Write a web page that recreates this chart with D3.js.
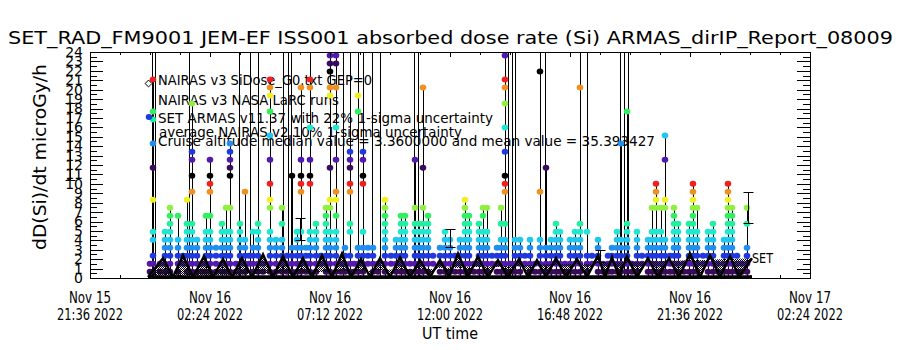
<!DOCTYPE html>
<html>
<head>
<meta charset="utf-8">
<script src="https://cdn.jsdelivr.net/npm/d3@7"></script>
<style>
  body { margin: 0; background: #fff; }
  svg { display: block; }
  text { font-family: "DejaVu Sans", sans-serif; font-weight: 400; fill: #000; }
</style>
</head>
<body>
<svg id="chart" width="900" height="350"></svg>
<script>
// times are hours after 2022-11-16 00:00 UT
var xTickHours = [-2.4, 2.4, 7.2, 12, 16.8, 21.6, 26.4],
    xTickDay = ["Nov 15", "Nov 16", "Nov 16", "Nov 16", "Nov 16", "Nov 16", "Nov 17"],
    xTickClock = ["21:36 2022", "02:24 2022", "07:12 2022", "12:00 2022", "16:48 2022", "21:36 2022", "02:24 2022"];

// quantized dose levels of the ARMAS read-out (microGy/h)
var doseLevels = [0.67, 1.52, 2.37, 3.22, 4.07, 4.92, 5.77, 6.62, 7.47, 8.32, 9.17, 10.02, 10.87, 11.72,
                  12.57, 13.42, 14.27, 15.12, 15.97, 16.82, 17.67, 18.52, 19.37, 20.22, 21.07, 21.92, 22.77, 23.62];
var levelColors = ["#3a0a5c", "#5218b0", "#2038e0", "#2090f0", "#20c8f0", "#20e8d0", "#20f0a0",
                   "#30f060", "#90f040", "#f0f020", "#f09020", "#f02020", "#000000"];

// SET ARMAS samples: [time, level indices reached]
var armasColumns = [
  [0.00, [0,1]], [0.12, [0,1,2,4,5,9,13,16,19,20,24]], [0.40, [0,1]], [0.60, [0,1,2,3,4,5]],
  [0.80, [0,1,2,3,4,5,6,7,8]], [1.12, [0,1,2,3,4,7]], [1.32, [1,2]],
  [1.48, [0,1,2,3,4,5,6,9]], [1.68, [0,1,2,3,4,5,6,10,12,14,15,21]], [1.88, [0,1,2,3,4]], [2.08, [0,1]],
  [2.24, [0,1,2,3,4,5,7]], [2.40, [0,1,2,3,4,5,7,10,11,12,14]], [2.64, [0,1,2,3]], [2.88, [0,1,2,3,4,5,6]],
  [3.04, [0,1,2,3,4,5,8]], [3.20, [0,1,2,3,4,5,8,12,13,14,15,16]], [3.44, [0,1]], [3.60, [0,1,2,3,4,5,6]],
  [3.80, [0,1,2,3,4,10]], [3.96, [1,2]], [4.12, [0,1,2,3,5]], [4.32, [0,1,2,3,4,5,6]], [4.52, [0,1]],
  [4.80, [0,1,2,3,4,5,8,9,11,14,17,20,22,23,24]], [5.04, [0,1,2,3,4]], [5.28, [0,1,2,3,4,6,8]],
  [5.48, [0,1,2]], [5.68, [0,1,2,3,12]], [5.88, [0,1,2,3,4,5]], [6.04, [0,1,2,3,5,10,11,12,14,23]],
  [6.24, [0,1,2,3]], [6.40, [0,1,2,3,4,5,11,12,14,18,23,24]], [6.64, [0,1,2,3,4,5,6]], [6.84, [1,2]],
  [7.04, [0,1,2,3,4,5,6,7,8]], [7.20, [0,1,2,3,4,5,8,9,13,22,23,25,26,27]],
  [7.44, [0,1,2,3,4,5,7,9,10,14,18,23,26,27]], [7.64, [0,1]], [7.80, [0,1,2,3]],
  [8.00, [0,1,2,5,6,10,11,13,14,15]], [8.16, [0,1]], [8.32, [0,1,2,3,20,22]],
  [8.52, [0,1,2,3,5,11,12,14,15]], [8.72, [1,2,3]], [8.92, [0,1,2,3]], [9.12, [0,1]],
  [9.40, [0,1,2,3,4,5,6,7,8,9]], [9.64, [1,2]], [9.84, [0,1,2,3,4]], [10.04, [0,1,2,3,4,5,6,7]],
  [10.20, [0,1,2,3,4,5,6,7]], [10.40, [0,1]], [10.60, [0,1,2,3,4,5,6,8,14]], [10.76, [0,1,2,3,4,5,6]],
  [10.92, [0,1,2,3,4,5,6,8,13,23]], [11.12, [0,1,2,3,4,5,6,7]], [11.32, [1,2]], [11.60, [0,1,2,3]],
  [11.80, [0,1,2,3,4,5]], [12.00, [0,1,2,3,4]], [12.20, [0,1,2]], [12.40, [0,1,2,3,4]],
  [12.60, [0,1,2,3,4,5,6,7,8,9]], [12.76, [0,1,2,3,4,5,6,7]], [12.96, [0,1]], [13.16, [0,1,2,3,4,5,6]],
  [13.32, [0,1,2,3,4,5,7,8]], [13.48, [0,1,2,3,4,5,8]], [13.68, [1,2]], [13.88, [0,1,2,3]],
  [14.04, [0,1,2,3,4,6,8]], [14.20, [0,1,2,3,4,6,10,11,12,15,18,21,23,24,27]], [14.40, [0,1]],
  [14.60, [0,1,2,3,4]], [14.80, [0,1,2,3,4]], [15.00, [1,2]], [15.20, [0,1,2,3,4]], [15.40, [0,1]],
  [15.60, [0,1,2,3,4,10,25]], [15.84, [0,1,2,3,13]], [16.04, [0,1,2,3,4]], [16.24, [0,1,2,3,4,5,6]],
  [16.40, [0,1,2,3,4,5]], [16.60, [0,1]], [16.80, [0,1,2,3,4]], [17.00, [0,1,2,3,4,5]],
  [17.20, [0,1,2,3,4,5,6,23]], [17.48, [0,1,2,5]], [17.68, [1,2]], [17.92, [0,1,2,3,4]],
  [18.12, [0,1]], [18.32, [0,1,2]], [18.48, [0,1,2,3]], [18.68, [0,1,2,3,4,5]], [18.84, [0,1,2,3,4,16]],
  [19.08, [0,1,2,3,4,5,6,20]], [19.28, [0,1]], [19.48, [0,1,2,3,4,5]], [19.68, [1,2]],
  [19.92, [0,1,2,3,4]], [20.08, [0,1,2,3,4,5,8]], [20.24, [0,1,2,3,4,5,8,9,10,11]], [20.44, [0,1,2,3,4,5,8]],
  [20.60, [0,1,2,3,4,8,9,14,17]], [20.80, [0,1,2]], [20.96, [0,1,2,3,4,5,6,7,8]], [21.12, [0,1,2,3,4,5,6]],
  [21.36, [0,1]], [21.56, [0,1,2,3,4,5,6]], [21.72, [0,1,2,3,4,5,6,7,8,9,10,11]], [21.88, [0,1,2,3,4,5,8]],
  [22.12, [1,2]], [22.32, [0,1,2,3,4,5]], [22.52, [0,1,2,3,4,5,6]], [22.72, [0,1]], [22.96, [0,1,2,3,4]],
  [23.12, [0,1,2,3,4,5,6,7,8,9,10,11]], [23.28, [0,1,2,3,4,5,6,7,8]], [23.48, [0,1,2]], [23.68, [0,1]],
  [23.88, [0,1,2,3,6,8]]
];

// samples that run off the top of the scale
var spikeTime = [0.08, 0.20, 1.56, 3.56, 4.00, 4.32, 5.32, 5.52, 5.64, 6.40, 7.20, 7.44, 7.72, 8.00, 8.32, 8.52,
                 8.88, 9.20, 10.56, 10.72, 14.20, 14.32, 14.48, 14.60, 15.60, 15.80, 17.20, 17.48, 18.80, 18.96, 19.12];
var spikeOffScale = 30;

// NAIRAS v3 SiDose along the orbit
var nairasTime = [-0.08, 0.52, 0.92, 1.32, 1.72, 2.16, 2.52, 2.92, 3.28, 3.68, 4.08, 4.52, 4.92, 5.32, 5.72, 6.12,
                  6.48, 6.88, 7.28, 7.68, 8.04, 8.44, 8.80, 9.20, 9.60, 10.00, 10.40, 10.80, 11.20, 11.60, 11.96,
                  12.32, 12.72, 13.12, 13.52, 13.92, 14.32, 14.76, 15.12, 15.48, 15.84, 16.24, 16.64, 17.08, 17.48,
                  17.92, 18.20, 18.48, 18.76, 19.08, 19.48, 19.92, 20.32, 20.76, 21.16, 21.60, 22.00, 22.40, 22.80,
                  23.20, 23.56, 24.08];
var nairasDose = [0.1, 2.1, 0.1, 2.4, 0.1, 2.3, 0.1, 2.0, 0.1, 2.1, 0.1, 2.5, 0.1, 2.3, 0.1, 2.1,
                  0.1, 2.4, 0.1, 2.6, 0.1, 2.0, 0.1, 2.1, 0.1, 2.2, 0.1, 1.9, 0.1, 1.9, 0.1,
                  2.6, 0.1, 2.3, 0.1, 1.9, 0.1, 2.0, 0.1, 1.9, 0.1, 2.1, 0.1, 2.0, 0.1,
                  2.4, 0.1, 2.2, 0.1, 2.3, 0.1, 2.1, 0.1, 2.1, 0.1, 2.6, 0.1, 2.4, 0.1,
                  2.3, 0.1, 2.1];
var baselineTime = [-0.08, 24.08],
    baselineDose = [0.1, 0.1];

// NASA LaRC runs with uncertainty
var errTime = [-3.2, 6.0, 12.0, 18.0, 23.92],
    errLow = [10.4, 4.03, 3.30, 1.70, 5.84],
    errHigh = [18.6, 6.37, 5.20, 2.97, 9.13];

var legendLines = [
  "NAIRAS v3 SiDose_G0.txt GEP=0",
  "NAIRAS v3 NASA LaRC runs",
  "SET ARMAS v11.37 with 22% 1-sigma uncertainty",
  "average NAIRAS v2 10% 1-sigma uncertainty",
  "Cruise altitude median value = 3.3600000 and mean value = 35.393427"
];

var t0 = Date.UTC(2022, 10, 16);
function toDate(h) { return new Date(t0 + h * 3600e3); }

var svg = d3.select("#chart"),
    LEFT = 90, RIGHT = 810, TOP = 52, BOTTOM = 278;

var xScale = d3.scaleUtc().domain([toDate(-2.4), toDate(26.4)]).range([LEFT, RIGHT]),
    yScale = d3.scaleLinear().domain([0, 24]).range([BOTTOM, TOP]);

function px(h) { return Math.round(xScale(toDate(h))) + 0.5; }

svg.append("rect").attr("width", 900).attr("height", 350).attr("fill", "#fff");

var defs = svg.append("defs");
defs.append("clipPath").attr("id", "plot")
  .append("rect").attr("x", LEFT).attr("y", TOP).attr("width", RIGHT - LEFT).attr("height", BOTTOM - TOP);
// dense diamonds of the model trace print as a checker texture
var pat = defs.append("pattern").attr("id", "checker").attr("patternUnits", "userSpaceOnUse")
  .attr("width", 2).attr("height", 2);
pat.append("rect").attr("width", 1).attr("height", 1).attr("fill", "#000");
pat.append("rect").attr("x", 1).attr("y", 1).attr("width", 1).attr("height", 1).attr("fill", "#000");

// title
svg.append("text")
  .attr("x", 8).attr("y", 44)
  .attr("font-size", 17)
  .attr("textLength", 885).attr("lengthAdjust", "spacingAndGlyphs")
  .text("SET_RAD_FM9001  JEM-EF ISS001 absorbed dose rate (Si) ARMAS_dirIP_Report_08009");

// legend text (drawn under the data, as in the plot)
var legendBase = [85, 105, 123, 137, 146],
    legendWidth = [214, 181, 335, 303, 497],
    legendX = [158, 158, 158, 159, 158];
svg.append("g").selectAll("text")
  .data(legendLines)
  .join("text")
    .attr("x", function(d, i) { return legendX[i]; })
    .attr("y", function(d, i) { return legendBase[i]; })
    .attr("font-size", 14)
    .attr("textLength", function(d, i) { return legendWidth[i]; })
    .attr("lengthAdjust", "spacingAndGlyphs")
    .text(function(d) { return d; });

var plot = svg.append("g").attr("clip-path", "url(#plot)");

// off-scale excursions
plot.append("g").selectAll("line")
  .data(spikeTime)
  .join("line")
    .attr("x1", function(d) { return px(d); })
    .attr("x2", function(d) { return px(d); })
    .attr("y1", yScale(0.1))
    .attr("y2", yScale(spikeOffScale))
    .attr("stroke", "#000");

// vertical runs of each ARMAS burst
plot.append("g").selectAll("line")
  .data(armasColumns.filter(function(d) { return d3.max(d[1]) > 3; }))
  .join("line")
    .attr("x1", function(d) { return px(d[0]); })
    .attr("x2", function(d) { return px(d[0]); })
    .attr("y1", yScale(0.1))
    .attr("y2", function(d) { return yScale(doseLevels[d3.max(d[1])]); })
    .attr("stroke", "#000");

var armasPoints = [];
armasColumns.forEach(function(c) {
  c[1].forEach(function(k) { armasPoints.push({ t: c[0], k: k }); });
});

plot.append("g").selectAll("ellipse")
  .data(armasPoints)
  .join("ellipse")
    .attr("cx", function(d) { return xScale(toDate(d.t)); })
    .attr("cy", function(d) { return yScale(doseLevels[d.k]); })
    .attr("rx", 3.3).attr("ry", 3)
    .attr("fill", function(d) { return levelColors[d.k % levelColors.length]; });

// NAIRAS trace
var lineGen = d3.line()
  .x(function(d) { return xScale(toDate(d[0])); })
  .y(function(d) { return yScale(d[1]); });

plot.append("path")
  .attr("d", lineGen(d3.zip(nairasTime, nairasDose)))
  .attr("fill", "url(#checker)")
  .attr("stroke", "#000").attr("stroke-width", 2.5)
  .attr("stroke-linejoin", "miter");

plot.append("path")
  .attr("d", lineGen(d3.zip(baselineTime, baselineDose)))
  .attr("stroke", "#000").attr("stroke-width", 3.5).attr("fill", "none");

// error bars (not clipped)
var eb = svg.append("g").attr("stroke", "#000");
errTime.forEach(function(t, i) {
  var xx = px(t), y1 = Math.round(yScale(errLow[i])) + 0.5, y2 = Math.round(yScale(errHigh[i])) + 0.5;
  eb.append("line").attr("x1", xx).attr("x2", xx).attr("y1", y1).attr("y2", y2);
  eb.append("line").attr("x1", xx - 5).attr("x2", xx + 5).attr("y1", y1).attr("y2", y1);
  eb.append("line").attr("x1", xx - 5).attr("x2", xx + 5).attr("y1", y2).attr("y2", y2);
});

// legend symbols
svg.append("path").attr("transform", "translate(148.5,83.5)")
  .attr("d", d3.symbol(d3.symbolDiamond2, 30)).attr("fill", "#fff").attr("stroke", "#000");
svg.append("path").attr("transform", "translate(148.5,101.5)")
  .attr("d", d3.symbol(d3.symbolPlus, 30)).attr("fill", "#000");
svg.append("ellipse").attr("cx", 149).attr("cy", 117).attr("rx", 3.3).attr("ry", 3).attr("fill", "#2038e0");

svg.append("text").attr("x", 752).attr("y", 263).attr("font-size", 14)
  .attr("textLength", 21).attr("lengthAdjust", "spacingAndGlyphs").text("SET");

// axes
var yMajor = d3.range(0, 25), yMinor = d3.range(0.5, 24, 1);
var majorDates = xTickHours.map(toDate),
    minorDates = d3.range(0, 25).map(function(i) { return toDate(-2.4 + i * 1.2); });

function axisStyle(g) {
  g.selectAll("path,line").attr("stroke", "#000").attr("shape-rendering", "crispEdges");
}

svg.append("g").attr("transform", "translate(" + LEFT + ",0)")
  .call(d3.axisLeft(yScale).tickValues(yMajor).tickSize(-13).tickSizeOuter(0).tickPadding(7))
  .call(axisStyle)
  .call(function(g) {
    g.selectAll("text").attr("font-size", 14).attr("font-family", "DejaVu Sans").attr("font-weight", 400);
  });
svg.append("g").attr("transform", "translate(" + LEFT + ",0)")
  .call(d3.axisLeft(yScale).tickValues(yMinor).tickSize(-7).tickFormat(""))
  .call(axisStyle).call(function(g) { g.select(".domain").remove(); });

svg.append("g").attr("transform", "translate(" + RIGHT + ",0)")
  .call(d3.axisRight(yScale).tickValues(yMajor).tickSize(-13).tickSizeOuter(0).tickFormat(""))
  .call(axisStyle);
svg.append("g").attr("transform", "translate(" + RIGHT + ",0)")
  .call(d3.axisRight(yScale).tickValues(yMinor).tickSize(-7).tickFormat(""))
  .call(axisStyle).call(function(g) { g.select(".domain").remove(); });

svg.append("g").attr("transform", "translate(0," + TOP + ")")
  .call(d3.axisTop(xScale).tickValues(majorDates).tickSize(-5).tickSizeOuter(0).tickFormat(""))
  .call(axisStyle);
svg.append("g").attr("transform", "translate(0," + TOP + ")")
  .call(d3.axisTop(xScale).tickValues(minorDates).tickSize(-3).tickFormat(""))
  .call(axisStyle).call(function(g) { g.select(".domain").remove(); });

svg.append("g").attr("transform", "translate(0," + BOTTOM + ")")
  .call(d3.axisBottom(xScale).tickValues(majorDates).tickSize(-5).tickSizeOuter(0).tickFormat(""))
  .call(axisStyle);
svg.append("g").attr("transform", "translate(0," + BOTTOM + ")")
  .call(d3.axisBottom(xScale).tickValues(minorDates).tickSize(-3).tickFormat(""))
  .call(axisStyle).call(function(g) { g.select(".domain").remove(); });

// x tick labels, two lines each
var xl = svg.append("g").attr("text-anchor", "middle").attr("font-size", 15);
majorDates.forEach(function(d, i) {
  xl.append("text").attr("x", xScale(d)).attr("y", 303)
    .attr("textLength", 42).attr("lengthAdjust", "spacingAndGlyphs").text(xTickDay[i]);
  xl.append("text").attr("x", xScale(d)).attr("y", 320)
    .attr("textLength", 66).attr("lengthAdjust", "spacingAndGlyphs").text(xTickClock[i]);
});

svg.append("text").attr("x", 450).attr("y", 339).attr("text-anchor", "middle")
  .attr("font-size", 15).attr("textLength", 56).attr("lengthAdjust", "spacingAndGlyphs").text("UT time");

svg.append("text")
  .attr("transform", "translate(46,157) rotate(-90)")
  .attr("text-anchor", "middle").attr("font-size", 17)
  .attr("textLength", 186).attr("lengthAdjust", "spacingAndGlyphs")
  .text("dD(Si)/dt microGy/h");
</script>
</body>
</html>
